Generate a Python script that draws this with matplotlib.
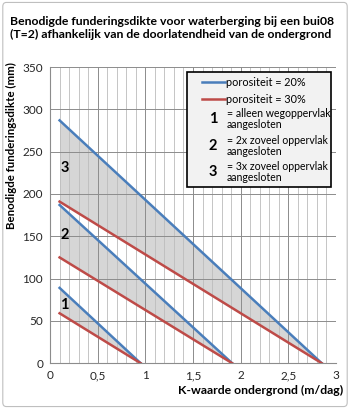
import matplotlib.pyplot as plt
from matplotlib.patches import Rectangle, FancyBboxPatch
from matplotlib.ticker import MultipleLocator

plt.rcParams['font.family'] = ['Lato', 'DejaVu Sans']

# K-waarde (m/dag) en funderingsdikte (mm) per scenario
k_1 = [0.1, 0.95]
k_2 = [0.1, 1.91]
k_3 = [0.1, 2.85]
dikte_20_1 = [89, 0]
dikte_30_1 = [59, 0]
dikte_20_2 = [187, 0]
dikte_30_2 = [125, 0]
dikte_20_3 = [287, 0]
dikte_30_3 = [191, 0]

labels = ['1', '2', '3']
label_pos = [(0.15, 69), (0.15, 151), (0.15, 231)]
legend_items = ['= alleen wegoppervlak\naangesloten',
                '= 2x zoveel oppervlak\naangesloten',
                '= 3x zoveel oppervlak\naangesloten']
xticks = [0, 0.5, 1, 1.5, 2, 2.5, 3]
xticklabels = ['0', '0,5', '1', '1,5', '2', '2,5', '3']

blauw = '#4a7ebb'
rood = '#be4b48'
grijs = '#d6d6d6'

fig = plt.figure(figsize=(3.5, 4.09), dpi=100)
ax = fig.add_axes([0.143, 0.112, 0.817, 0.724])

# rand om de hele grafiek
fig.patches.append(FancyBboxPatch((0.008, 0.006), 0.984, 0.988, boxstyle='round,pad=0,rounding_size=0.01',
                                  transform=fig.transFigure, fill=False, edgecolor='#bfbfbf', linewidth=0.8))

for k, d20, d30 in [(k_1, dikte_20_1, dikte_30_1), (k_2, dikte_20_2, dikte_30_2), (k_3, dikte_20_3, dikte_30_3)]:
    ax.fill_between(k, d20, d30, color=grijs, linewidth=0, zorder=0.5)
    ax.plot(k, d20, color=blauw, linewidth=1.8, zorder=3)
    ax.plot(k, d30, color=rood, linewidth=1.8, zorder=3)

for lab, (x, y) in zip(labels, label_pos):
    ax.text(x, y, lab, fontsize=10.5, fontweight='bold', ha='center', va='center', zorder=4)

ax.set_xlim(0, 3)
ax.set_ylim(0, 350)
ax.set_xticks(xticks)
ax.set_xticklabels(xticklabels)
ax.set_yticks(range(0, 351, 50))
ax.xaxis.set_minor_locator(MultipleLocator(0.1))
ax.grid(which='minor', axis='x', color='#bcbcbc', linewidth=0.6, zorder=1)
ax.grid(which='major', axis='both', color='#8c8c8c', linewidth=0.7, zorder=1)
ax.tick_params(which='both', length=0, labelsize=8.5, pad=5, labelcolor='#262626')
for s in ['top', 'right']:
    ax.spines[s].set_visible(False)
for s in ['left', 'bottom']:
    ax.spines[s].set_color('#8c8c8c')
    ax.spines[s].set_linewidth(0.8)

ax.set_ylabel('Benodigde funderingsdikte (mm)', fontsize=8.3, fontweight='bold', loc='top')
ax.yaxis.set_label_coords(-0.115, 1.017)
ax.set_xlabel('K-waarde ondergrond (m/dag)', fontsize=8.8, fontweight='bold', loc='right')
ax.xaxis.set_label_coords(1.025, -0.072)

fig.text(0.03, 0.962, 'Benodigde funderingsdikte voor waterberging bij een bui08\n(T=2) afhankelijk van de doorlatendheid van de ondergrond',
         fontsize=8.8, fontweight='bold', ha='left', va='top', linespacing=1.25)

# legenda (handmatig opgebouwd)
lx0, ly0, lx1, ly1 = 0.479, 0.595, 0.983, 0.983
ax.add_patch(Rectangle((lx0, ly0), lx1 - lx0, ly1 - ly0, transform=ax.transAxes, facecolor='#f2f2f2',
                       edgecolor='black', linewidth=1.2, zorder=5))
for kleur, tekst, yy in [(blauw, 'porositeit = 20%', 0.949), (rood, 'porositeit = 30%', 0.892)]:
    ax.plot([0.531, 0.612], [yy, yy], color=kleur, linewidth=1.8, transform=ax.transAxes, zorder=6)
    ax.text(0.614, yy, tekst, fontsize=7.8, va='center', ha='left', transform=ax.transAxes, zorder=6)
for lab, tekst, yy in zip(labels, legend_items, [0.824, 0.733, 0.645]):
    ax.text(0.57, yy, lab, fontsize=10.5, fontweight='bold', ha='center', va='center',
            transform=ax.transAxes, zorder=6)
    ax.text(0.619, yy, tekst, fontsize=7.6, ha='left', va='center', linespacing=0.95,
            transform=ax.transAxes, zorder=6)

fig.savefig('out.png', dpi=100)
